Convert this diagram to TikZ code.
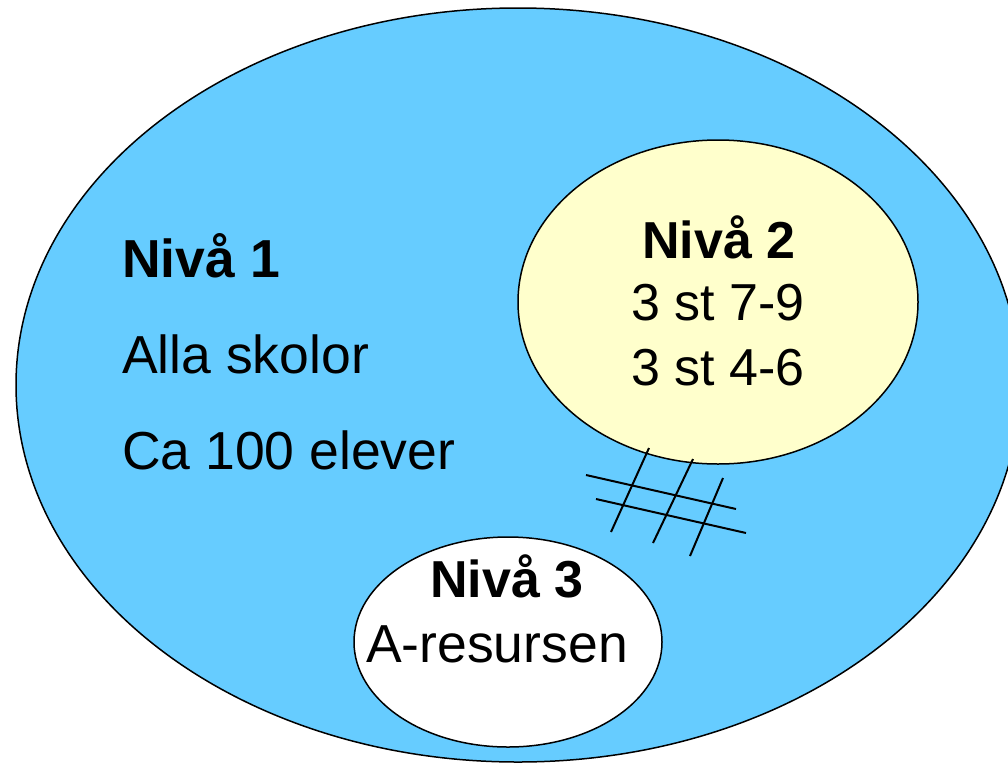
\documentclass[tikz,border=0pt]{standalone}
\usepackage{fontspec}
\setmainfont{Liberation Sans}
\usetikzlibrary{shapes.geometric}
\definecolor{levelblue}{HTML}{66CCFF}
\definecolor{levelyellow}{HTML}{FFFFCC}
\begin{document}
\begin{tikzpicture}[x=1pt, y=-1pt,
        level/.style={ellipse, draw=black, line width=1.5pt, inner sep=0pt},
        lbl/.style={inner sep=0pt, font=\fontsize{52}{60}\selectfont},
        biglbl/.style={lbl, font=\fontsize{53.5}{60}\selectfont}]
        \useasboundingbox (0, 0) rectangle (1008, 763);
        \clip (0, 0) rectangle (1008, 763);
        \node [level, fill=levelblue, minimum width=1004pt, minimum height=754pt] (niva1) at (518, 385) {};
        \node [level, fill=levelyellow, minimum width=400pt, minimum height=324pt] (niva2) at (718, 302) {};
        \node [level, fill=white, minimum width=308pt, minimum height=210pt] (niva3) at (508, 642) {};
        \node [biglbl, anchor=base west] (title1) at (122, 277) {\bfseries Nivå 1};
        \node [biglbl, anchor=base west] (skolor) at (122, 373) {Alla skolor};
        \node [biglbl, anchor=base west] (elever) at (122, 469) {Ca 100 elever};
        \node [lbl, anchor=base] (title2) at (719, 258) {\bfseries Nivå 2};
        \node [lbl, anchor=base] (hogstad) at (718, 320) {3 st 7-9};
        \node [lbl, anchor=base] (mellan) at (718, 385) {3 st 4-6};
        \node [lbl, anchor=base] (title3) at (507, 597) {\bfseries Nivå 3};
        \node [biglbl, anchor=base] (resurs) at (497, 662) {A-resursen};
        \draw [line width=2pt] (586, 475) -- (736, 509);
        \draw [line width=2pt] (596, 499) -- (746, 533);
        \draw [line width=2pt] (649, 448) -- (611, 532);
        \draw [line width=2pt] (693, 459) -- (653, 543);
        \draw [line width=2pt] (723, 478) -- (690, 556);
    \end{tikzpicture}
\end{document}
